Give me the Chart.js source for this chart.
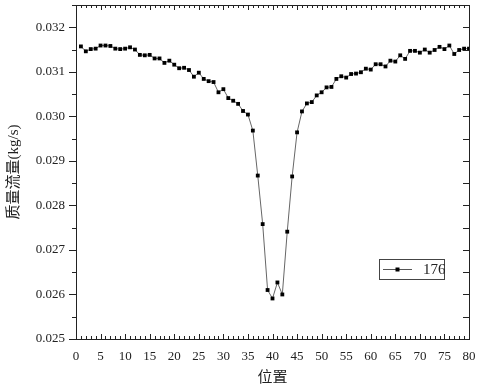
<!DOCTYPE html>
<html>
<head>
<meta charset="utf-8">
<script src="https://cdn.jsdelivr.net/npm/chart.js@4/dist/chart.umd.min.js"></script>
<style>
  html, body { margin: 0; padding: 0; background: #fff; }
  #c { display: block; }
</style>
</head>
<body>
<canvas id="c" width="483" height="387"></canvas>
<script>
// data
const positions = [];
for (let i = 1; i <= 80; i++) positions.push(i);

const flow176 = [
  0.03157, 0.03146, 0.03151, 0.03152, 0.03159, 0.03159, 0.03158, 0.03152, 0.03151, 0.03152,
  0.03155, 0.03150, 0.03138, 0.03137, 0.03138, 0.03130, 0.03130, 0.03120, 0.03125, 0.03116,
  0.03108, 0.03109, 0.03104, 0.03089, 0.03098, 0.03084, 0.03079, 0.03077, 0.03054, 0.03061,
  0.03041, 0.03035, 0.03028, 0.03012, 0.03004, 0.02968, 0.02867, 0.02758, 0.02610, 0.02591,
  0.02627, 0.02600, 0.02741, 0.02865, 0.02964, 0.03011, 0.03029, 0.03032, 0.03047, 0.03054,
  0.03065, 0.03066, 0.03084, 0.03090, 0.03087, 0.03095, 0.03096, 0.03099, 0.03107, 0.03105,
  0.03117, 0.03117, 0.03112, 0.03125, 0.03123, 0.03137, 0.03129, 0.03147, 0.03147, 0.03143,
  0.03150, 0.03143, 0.03149, 0.03156, 0.03151, 0.03159, 0.03140, 0.03149, 0.03152, 0.03152
];

const xTicks = [0, 5, 10, 15, 20, 25, 30, 35, 40, 45, 50, 55, 60, 65, 70, 75, 80];
const yTicks = [0.025, 0.026, 0.027, 0.028, 0.029, 0.030, 0.031, 0.032];
const seriesName = "176";

const serif = "'Liberation Serif', 'Times New Roman', 'Noto Sans CJK SC', serif";
const ink = "#222";

// frame, tick marks and legend box (Origin style)
const frameAndTicks = {
  id: "frameAndTicks",
  afterDraw(chart) {
    const { ctx, chartArea: a, scales } = chart;
    const xs = scales.x, ys = scales.y;
    ctx.save();
    ctx.strokeStyle = ink;
    ctx.lineWidth = 1;
    ctx.strokeRect(Math.round(a.left) + 0.5, Math.round(a.top) + 0.5,
      Math.round(a.right - a.left), Math.round(a.bottom - a.top));

    ctx.beginPath();
    // x: minor every 1, major every 5, pointing inward (bottom + top)
    for (let v = 0; v <= 80; v++) {
      const px = Math.round(xs.getPixelForValue(v)) + 0.5;
      const len = v % 5 === 0 ? 5 : 3;
      ctx.moveTo(px, a.bottom); ctx.lineTo(px, a.bottom - len);
      ctx.moveTo(px, a.top); ctx.lineTo(px, a.top + len);
    }
    // y: major every 0.001, minor in between
    for (let k = 0; k <= 15; k++) {
      const v = 0.025 + k * 0.0005;
      if (v > 0.0325 + 1e-9) break;
      const py = Math.round(ys.getPixelForValue(v)) + 0.5;
      const major = k % 2 === 0;
      ctx.moveTo(a.left, py); ctx.lineTo(a.left - (major ? 7 : 4), py);
      ctx.moveTo(a.right, py); ctx.lineTo(a.right - 6, py);
    }
    ctx.stroke();

    // legend
    const lx = 379.5, ly = 259.5, lw = 65, lh = 20;
    ctx.fillStyle = "#fff";
    ctx.fillRect(lx, ly, lw, lh);
    ctx.strokeStyle = "#444";
    ctx.strokeRect(lx, ly, lw, lh);
    ctx.strokeStyle = "#555";
    ctx.beginPath();
    ctx.moveTo(383, ly + lh / 2); ctx.lineTo(412, ly + lh / 2);
    ctx.stroke();
    ctx.fillStyle = "#000";
    ctx.fillRect(395.5, ly + lh / 2 - 2, 4, 4);
    ctx.fillStyle = ink;
    ctx.font = "15px " + serif;
    ctx.textBaseline = "middle";
    ctx.textAlign = "left";
    ctx.fillText(seriesName, 423, ly + lh / 2 + 1);
    ctx.restore();
  }
};

new Chart(document.getElementById("c"), {
  type: "line",
  data: {
    labels: positions,
    datasets: [{
      label: seriesName,
      data: positions.map((p, i) => ({ x: p, y: flow176[i] })),
      borderColor: "#666",
      borderWidth: 1,
      pointStyle: "rect",
      pointRadius: 2.7,
      pointBackgroundColor: "#000",
      pointBorderColor: "#000",
      pointBorderWidth: 0,
      tension: 0
    }]
  },
  options: {
    responsive: false,
    animation: false,
    events: [],
    layout: { padding: { left: 0, right: 14, top: 5, bottom: 0 } },
    plugins: { legend: { display: false }, tooltip: { enabled: false } },
    scales: {
      x: {
        type: "linear",
        min: 0, max: 80,
        grid: { display: false, drawTicks: false },
        border: { display: false },
        afterBuildTicks: s => { s.ticks = xTicks.map(v => ({ value: v })); },
        afterFit: s => { s.height = 48; s.paddingLeft = 0; s.paddingRight = 0; },
        ticks: {
          padding: 10, color: ink, maxRotation: 0, autoSkip: false,
          font: { family: serif, size: 13 }
        },
        title: {
          display: true, text: "位置", color: ink,
          font: { family: serif, size: 15 }, padding: { top: 0, bottom: 0 }
        }
      },
      y: {
        min: 0.025, max: 0.0325,
        grid: { display: false, drawTicks: false },
        border: { display: false },
        afterBuildTicks: s => { s.ticks = yTicks.map(v => ({ value: v })); },
        afterFit: s => { s.width = 76; s.paddingTop = 0; s.paddingBottom = 0; },
        ticks: {
          padding: 11, color: ink, autoSkip: false,
          font: { family: serif, size: 13 },
          callback: v => v.toFixed(3)
        },
        title: {
          display: true, text: "质量流量(kg/s)", color: ink,
          font: { family: serif, size: 15 }, padding: { top: 5, bottom: 0 }
        }
      }
    }
  },
  plugins: [frameAndTicks]
});
</script>
</body>
</html>
